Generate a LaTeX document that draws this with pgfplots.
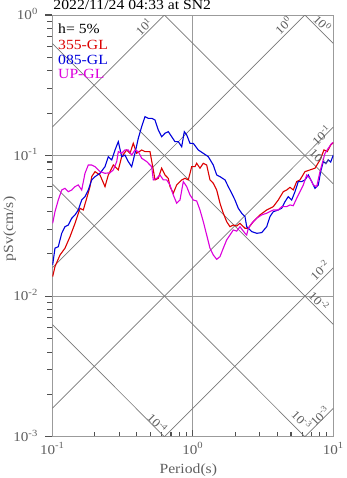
\documentclass[border=0pt]{standalone}
\usepackage{fontspec}
\setmainfont{Liberation Serif}[FakeStretch=1.12]
\usepackage{pgfplots}
\pgfplotsset{compat=1.18}

\definecolor{cRed}{RGB}{220,0,0}
\definecolor{cBlue}{RGB}{0,0,220}
\definecolor{cMag}{RGB}{220,0,220}
\definecolor{gridgray}{RGB}{155,155,155}
\definecolor{diaggray}{RGB}{120,120,120}
\definecolor{txtgray}{RGB}{95,95,95}
\definecolor{tickgray}{RGB}{80,80,80}
\newcommand{\tp}[1]{10\textsuperscript{#1}}
\newcommand{\lblfont}{\fontsize{14bp}{16bp}\selectfont}
\newcommand{\dfont}{\fontsize{12bp}{14bp}\selectfont}

\begin{document}
\begin{tikzpicture}
\useasboundingbox (-52.3bp,-41.3bp) rectangle (294.7bp,436.7bp);
\begin{axis}[
    scale only axis,
    width=281bp, height=421.7bp,
    xmode=log, ymode=log,
    xmin=0.1, xmax=10, ymin=0.001, ymax=1,
    xtick={0.1,1,10}, xticklabels={\tp{-1},\tp{0},\tp{1}},
    ytick={0.001,0.01,0.1,1}, yticklabels={\tp{-3},\tp{-2},\tp{-1},\tp{0}},
    minor xtick={0.2,0.3,0.4,0.5,0.6,0.7,0.8,0.9,2,3,4,5,6,7,8,9},
    minor ytick={0.002,0.003,0.004,0.005,0.006,0.007,0.008,0.009,
                 0.02,0.03,0.04,0.05,0.06,0.07,0.08,0.09,
                 0.2,0.3,0.4,0.5,0.6,0.7,0.8,0.9},
    xtick pos=bottom, ytick pos=left,
    xtick align=inside, ytick align=outside,
    major tick length=7bp, minor tick length=5bp,
    every tick/.style={draw=tickgray, line width=1.1bp},
    xticklabel style={anchor=base, inner sep=0pt, yshift=-17.3bp, font=\fontsize{13.5bp}{15bp}\selectfont, text=txtgray},
    yticklabel style={anchor=base east, inner sep=0pt, xshift=-7.3bp, yshift=-4.6bp, font=\fontsize{13.5bp}{15bp}\selectfont, text=txtgray},
    xticklabel shift=0pt, yticklabel shift=0pt,
    grid=major,
    minor grid style={draw=none},
    major grid style={gridgray, line width=1bp},
    axis line style={gridgray, line width=1bp},
]

% displacement lines (Sd = 1e-4 ... 1 cm)
\addplot[diaggray, line width=0.7bp, forget plot] coordinates {(0.1,0.006283) (0.6283,0.001)};
\addplot[diaggray, line width=0.7bp, forget plot] coordinates {(0.1,0.06283) (6.283,0.001)};
\addplot[diaggray, line width=0.7bp, forget plot] coordinates {(0.1,0.6283) (10,0.006283)};
\addplot[diaggray, line width=0.7bp, forget plot] coordinates {(0.6283,1) (10,0.06283)};
\addplot[diaggray, line width=0.7bp, forget plot] coordinates {(6.283,1) (10,0.6283)};
% acceleration lines (Sa = 1e-3 ... 10 cm/s2)
\addplot[diaggray, line width=0.7bp, forget plot] coordinates {(6.283,0.001) (10,0.001592)};
\addplot[diaggray, line width=0.7bp, forget plot] coordinates {(0.6283,0.001) (10,0.01592)};
\addplot[diaggray, line width=0.7bp, forget plot] coordinates {(0.1,0.001592) (10,0.1592)};
\addplot[diaggray, line width=0.7bp, forget plot] coordinates {(0.1,0.01592) (6.283,1)};
\addplot[diaggray, line width=0.7bp, forget plot] coordinates {(0.1,0.1592) (0.6283,1)};

% 355-GL
\addplot[cRed, line width=1.1bp] coordinates {
(0.1006,0.01377) (0.1045,0.01622) (0.1135,0.01963) (0.1231,0.02193) (0.1337,0.02649)
(0.1451,0.03296) (0.1575,0.04217) (0.1662,0.04102) (0.1757,0.04966) (0.1855,0.06012)
(0.1908,0.07079) (0.2014,0.07691) (0.2185,0.07278) (0.2372,0.06012) (0.2504,0.07278)
(0.2719,0.08570) (0.2950,0.07907) (0.3119,0.09817) (0.3383,0.1096) (0.3573,0.1038)
(0.3771,0.1222) (0.3987,0.1038) (0.4328,0.1096) (0.4568,0.1067) (0.4958,0.1067)
(0.5235,0.07907) (0.5383,0.06714) (0.5678,0.06887) (0.6004,0.08128) (0.6340,0.07278)
(0.6693,0.06887) (0.6882,0.06012) (0.7264,0.05395) (0.7680,0.06180) (0.8337,0.06714)
(0.8800,0.06887) (0.9290,0.06714) (0.9822,0.08337) (1.0368,0.08337) (1.0661,0.08810)
(1.1251,0.08128) (1.1876,0.08810) (1.2556,0.08570) (1.3253,0.06714) (1.3990,0.06353)
(1.4792,0.05689) (1.5616,0.04581) (1.6484,0.03890) (1.7427,0.03388) (1.8396,0.03119)
(1.9417,0.03206) (2.0535,0.03155) (2.1674,0.03296) (2.3524,0.03041) (2.4831,0.03041)
(2.6953,0.03388) (3.0079,0.03784) (3.3574,0.04102) (3.7411,0.04335) (4.0596,0.04831)
(4.4063,0.05534) (4.6586,0.05689) (4.9176,0.05943) (5.1910,0.05700) (5.4884,0.06531)
(5.7943,0.06714) (6.2887,0.07691) (6.8254,0.07907) (7.4082,0.08128) (8.0406,0.09311)
(8.5857,0.1096) (9.0634,0.1067) (9.5829,0.1189) (10.0,0.1236)
};
% 085-GL
\addplot[cBlue, line width=1.1bp] coordinates {
(0.1006,0.01667) (0.1045,0.02193) (0.1103,0.02249) (0.1167,0.02799) (0.1231,0.03119)
(0.1300,0.03206) (0.1375,0.03581) (0.1451,0.03784) (0.1531,0.04102) (0.1619,0.04831)
(0.1709,0.05105) (0.1804,0.05689) (0.1908,0.06714) (0.2014,0.07079) (0.2185,0.07482)
(0.2372,0.08337) (0.2504,0.09817) (0.2648,0.09311) (0.2795,0.1096) (0.2950,0.1256)
(0.3119,0.09817) (0.3291,0.1009) (0.3474,0.09057) (0.3673,0.08337) (0.3877,0.1038)
(0.4093,0.1327) (0.4328,0.1607) (0.4568,0.1892) (0.4822,0.1841) (0.5098,0.1841)
(0.5383,0.1791) (0.5678,0.1521) (0.6004,0.1361) (0.6340,0.1442) (0.6693,0.1479)
(0.7076,0.1361) (0.7469,0.1256) (0.7884,0.1256) (0.8337,0.1156) (0.8699,0.1479)
(0.9049,0.1403) (0.9552,0.1222) (1.0083,0.1222) (1.0942,0.1096) (1.1876,0.1038)
(1.2889,0.09817) (1.3990,0.08570) (1.4792,0.07278) (1.5616,0.07079) (1.6949,0.06714)
(1.7890,0.06012) (1.8914,0.05395) (1.9966,0.04831) (2.1078,0.04217) (2.2284,0.03890)
(2.3524,0.03681) (2.4187,0.03119) (2.6254,0.02877) (2.8497,0.02799) (3.0929,0.02830)
(3.3574,0.03119) (3.5440,0.03681) (3.7411,0.03990) (4.0596,0.04102) (4.2921,0.04217)
(4.5307,0.04699) (4.7825,0.05105) (5.0564,0.04831) (5.3376,0.05534) (5.6342,0.06531)
(5.9579,0.06531) (6.2887,0.06714) (6.6378,0.07278) (7.0182,0.06531) (7.4082,0.05848)
(7.8197,0.06180) (8.1337,0.07691) (8.4874,0.09057) (8.8716,0.08810) (9.2127,0.09311)
(9.5829,0.09000) (10.0,0.1009)
};
% UP-GL
\addplot[cMag, line width=1.1bp] coordinates {
(0.1006,0.03296) (0.1045,0.03990) (0.1103,0.04831) (0.1167,0.05689) (0.1231,0.05848)
(0.1300,0.05534) (0.1375,0.05689) (0.1451,0.06012) (0.1531,0.06180) (0.1619,0.05689)
(0.1709,0.07482) (0.1804,0.08570) (0.1908,0.08570) (0.2014,0.08337) (0.2185,0.07691)
(0.2372,0.07482) (0.2575,0.07550) (0.2719,0.07907) (0.2874,0.09057) (0.2950,0.1067)
(0.3119,0.1038) (0.3291,0.1096) (0.3474,0.1096) (0.3673,0.1009) (0.3877,0.1096)
(0.4093,0.1067) (0.4328,0.09572) (0.4697,0.09057) (0.4958,0.08570) (0.5098,0.08337)
(0.5235,0.06714) (0.5535,0.06887) (0.5839,0.07278) (0.6166,0.06714) (0.6519,0.06714)
(0.6882,0.06180) (0.7264,0.05248) (0.7680,0.04581) (0.8107,0.04831) (0.8558,0.06531)
(0.9049,0.06012) (0.9552,0.05248) (1.0083,0.04831) (1.0661,0.04750) (1.1251,0.04102)
(1.1876,0.03388) (1.2556,0.02723) (1.3253,0.02193) (1.3990,0.01963) (1.4792,0.01828)
(1.5616,0.01910) (1.6484,0.02193) (1.7427,0.02512) (1.8396,0.02723) (1.9417,0.02958)
(2.0535,0.02900) (2.1674,0.03119) (2.3524,0.02799) (2.4187,0.02723) (2.4831,0.03041)
(2.6254,0.03296) (2.8497,0.03581) (3.0929,0.03784) (3.3574,0.03890) (3.7411,0.04102)
(4.0596,0.04102) (4.2921,0.04335) (4.6586,0.04335) (4.9176,0.04457) (5.1910,0.04400)
(5.4884,0.04966) (5.7943,0.05534) (6.1160,0.06180) (6.4664,0.07278) (6.8254,0.06887)
(7.2046,0.06180) (7.6175,0.06012) (8.0406,0.07691) (8.4056,0.09057) (8.7274,0.1038)
(9.2127,0.1127) (9.7410,0.1222) (10.0,0.1236)
};

% labels of the diagonal lines
\begin{scope}[every node/.style={font=\dfont, text=txtgray, inner sep=0pt}]
\node[rotate=45]  at (axis cs:0.447,0.826)   {\tp{1}};
\node[rotate=45]  at (axis cs:4.41,0.849)    {\tp{0}};
\node[rotate=-45] at (axis cs:8.38,0.873)    {\tp{0}};
\node[rotate=45]  at (axis cs:8.21,0.140)    {\tp{-1}};
\node[rotate=-45] at (axis cs:8.0,0.096)     {\tp{-1}};
\node[rotate=45]  at (axis cs:8.0,0.0152)    {\tp{-2}};
\node[rotate=-45] at (axis cs:7.93,0.00925)  {\tp{-2}};
\node[rotate=45]  at (axis cs:8.0,0.00141)   {\tp{-3}};
\node[rotate=-45] at (axis cs:5.96,0.00132)  {\tp{-3}};
\node[rotate=-45] at (axis cs:0.561,0.00125) {\tp{-4}};
\end{scope}
\end{axis}

% legend text
\node[anchor=base west, inner sep=0pt, font=\lblfont] at (5.7bp,402.7bp) {h= 5\%};
\node[anchor=base west, inner sep=0pt, font=\lblfont, text=cRed] at (5.7bp,387.4bp) {355-GL};
\node[anchor=base west, inner sep=0pt, font=\lblfont, text=cBlue] at (5.7bp,372.4bp) {085-GL};
\node[anchor=base west, inner sep=0pt, font=\lblfont, text=cMag] at (5.7bp,358bp) {UP-GL};

% title and axis labels
\node[anchor=base west, inner sep=0pt, font=\lblfont] at (1bp,426.7bp) {2022/11/24 04:33 at SN2};
\node[anchor=base, inner sep=0pt, font=\lblfont, text=txtgray] at (136bp,-36.3bp) {Period(s)};
\node[anchor=base, rotate=90, inner sep=0pt, font=\lblfont, text=txtgray] at (-39.3bp,207.7bp) {pSv(cm/s)};
\end{tikzpicture}
\end{document}
